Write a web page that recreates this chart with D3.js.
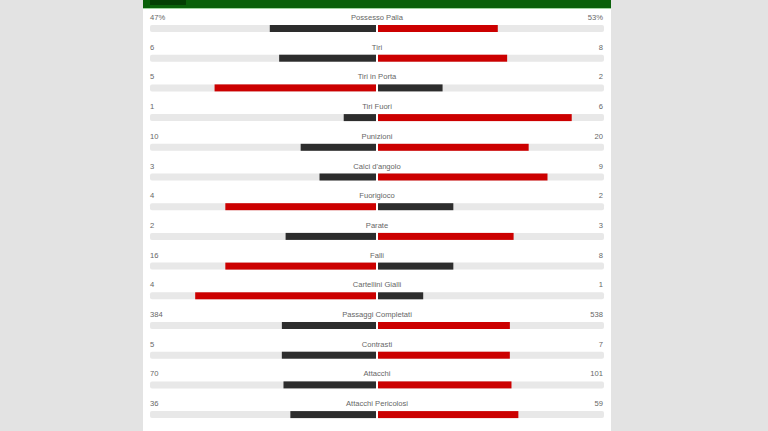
<!DOCTYPE html>
<html>
<head>
<meta charset="utf-8">
<script src="https://cdn.jsdelivr.net/npm/d3@7"></script>
<style>
  html, body { margin: 0; padding: 0; background: #e3e3e3; }
  svg { display: block; }
</style>
</head>
<body>
<div id="chart"></div>
<script>
const categories = ["Possesso Palla", "Tiri", "Tiri in Porta", "Tiri Fuori", "Punizioni",
  "Calci d'angolo", "Fuorigioco", "Parate", "Falli", "Cartellini Gialli",
  "Passaggi Completati", "Contrasti", "Attacchi", "Attacchi Pericolosi"];
const homeValues = [47, 6, 5, 1, 10, 3, 4, 2, 16, 4, 384, 5, 70, 36];
const awayValues = [53, 8, 2, 6, 20, 9, 2, 3, 8, 1, 538, 7, 101, 59];
const suffixes = ["%", "", "", "", "", "", "", "", "", "", "", "", "", ""];

const width = 768, height = 431;
const panelX = 143, panelW = 468;
const center = 377;
const trackW = 226;

const svg = d3.select("#chart").append("svg")
  .attr("width", width)
  .attr("height", height);

// pannello bianco
svg.append("rect")
  .attr("x", panelX).attr("y", 0)
  .attr("width", panelW).attr("height", height)
  .attr("fill", "#fff");

// intestazione verde
svg.append("rect")
  .attr("x", panelX).attr("y", 0)
  .attr("width", panelW).attr("height", 8)
  .attr("fill", "#0a610a");
svg.append("rect")
  .attr("x", panelX).attr("y", 8)
  .attr("width", panelW).attr("height", 1)
  .attr("fill", "#9fd69f");
svg.append("rect")
  .attr("x", 150).attr("y", 0)
  .attr("width", 36).attr("height", 5)
  .attr("fill", "#043f04");

const y = d3.scaleBand()
  .domain(categories)
  .range([11, 11 + 29.7 * categories.length]);

const share = d3.scaleLinear().domain([0, 1]).range([0, trackW]);

const rows = svg.selectAll(".row")
  .data(categories)
  .enter().append("g")
  .attr("class", "row")
  .attr("transform", d => `translate(0, ${y(d)})`);

rows.each(function(d, i) {
  const g = d3.select(this);
  const h = homeValues[i], a = awayValues[i];
  const tot = h + a;
  const hw = share(h / tot), aw = share(a / tot);

  // tracce grigie
  g.append("rect")
    .attr("x", center - 1 - trackW).attr("y", 14)
    .attr("width", trackW).attr("height", 7)
    .attr("rx", 2)
    .attr("fill", "#e8e8e8");
  g.append("rect")
    .attr("x", center + 1).attr("y", 14)
    .attr("width", trackW).attr("height", 7)
    .attr("rx", 2)
    .attr("fill", "#e8e8e8");

  g.append("rect")
    .attr("x", center - 1 - hw).attr("y", 14)
    .attr("width", hw).attr("height", 7)
    .attr("fill", h > a ? "#cc0000" : "#2d2d2d");
  g.append("rect")
    .attr("x", center + 1).attr("y", 14)
    .attr("width", aw).attr("height", 7)
    .attr("fill", a > h ? "#cc0000" : "#2d2d2d");

  const txt = g.append("g")
    .style("font-family", "'Liberation Sans', Arial, sans-serif")
    .style("font-size", "7.6px")
    .style("fill", "#666");
  txt.append("text")
    .attr("x", 150).attr("y", 9)
    .text(h + suffixes[i]);
  txt.append("text")
    .attr("x", center).attr("y", 9)
    .attr("text-anchor", "middle")
    .text(d);
  txt.append("text")
    .attr("x", 603).attr("y", 9)
    .attr("text-anchor", "end")
    .text(a + suffixes[i]);
});
</script>
</body>
</html>
